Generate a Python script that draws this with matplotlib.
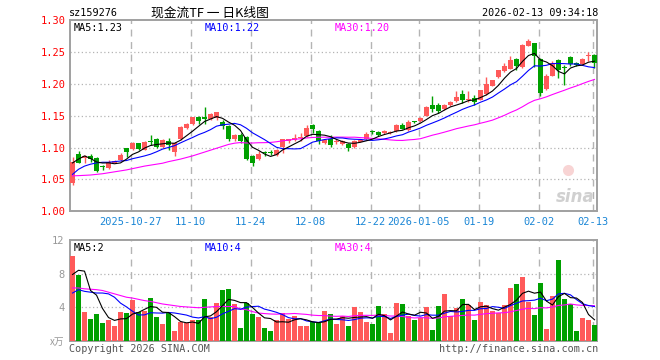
import numpy as np
import pandas as pd
import matplotlib
matplotlib.use('Agg')
from matplotlib import pyplot as plt

# daily candles (2025-10-13 .. 2026-02-13)
opens = [1.045, 1.090, 1.083, 1.0875, 1.084, 1.0702, 1.0676, 1.0765, 1.0807, 1.099,
         1.0975, 1.1069, 1.0964, 1.110, 1.1137, 1.1006, 1.1111, 1.0938, 1.1132, 1.1305,
         1.1373, 1.1488, 1.1488, 1.1452, 1.1473, 1.141, 1.1342, 1.1143, 1.12, 1.1174,
         1.087, 1.082, 1.0915, 1.0924, 1.088, 1.1016, 1.1099, 1.112, 1.115, 1.1182,
         1.135, 1.126, 1.1068, 1.1135, 1.1088, 1.1057, 1.1057, 1.1016, 1.1094, 1.1135,
         1.1245, 1.1245, 1.1224, 1.123, 1.1266, 1.1354, 1.1276, 1.1405, 1.1411, 1.1495,
         1.1677, 1.1677, 1.160, 1.1677, 1.1729, 1.1844, 1.1745, 1.1781, 1.1755, 1.1849,
         1.1974, 1.2109, 1.2198, 1.224, 1.2391, 1.2266, 1.2599, 1.2641, 1.2391, 1.1922,
         1.213, 1.238, 1.226, 1.2422, 1.2328, 1.2318, 1.2432, 1.2458]
highs = [1.086, 1.094, 1.089, 1.090, 1.086, 1.073, 1.081, 1.081, 1.091, 1.100,
         1.1095, 1.108, 1.1105, 1.120, 1.1147, 1.1132, 1.1147, 1.1095, 1.1342, 1.1384,
         1.1488, 1.1498, 1.1635, 1.155, 1.1567, 1.1436, 1.1358, 1.1215, 1.1237, 1.1184,
         1.0886, 1.0948, 1.0948, 1.0958, 1.0972, 1.1141, 1.1141, 1.1208, 1.1234, 1.135,
         1.1365, 1.1276, 1.113, 1.1203, 1.1135, 1.1125, 1.1068, 1.1115, 1.114, 1.1245,
         1.127, 1.1255, 1.1276, 1.1266, 1.137, 1.139, 1.1427, 1.142, 1.148, 1.1656,
         1.1818, 1.170, 1.169, 1.174, 1.1885, 1.1906, 1.1885, 1.1833, 1.1911, 1.2109,
         1.2068, 1.2224, 1.2328, 1.2443, 1.2401, 1.263, 1.2708, 1.2651, 1.2406, 1.2156,
         1.2354, 1.2391, 1.2302, 1.2432, 1.2344, 1.2406, 1.250, 1.2474]
lows = [1.042, 1.0755, 1.0755, 1.078, 1.062, 1.065, 1.066, 1.0755, 1.0797, 1.086,
        1.0965, 1.0955, 1.0955, 1.104, 1.099, 1.099, 1.096, 1.087, 1.1122, 1.129,
        1.1358, 1.1373, 1.1373, 1.1436, 1.1436, 1.1289, 1.111, 1.111, 1.108, 1.080,
        1.0718, 1.0813, 1.087, 1.088, 1.087, 1.091, 1.1068, 1.1104, 1.1104, 1.1172,
        1.1234, 1.1063, 1.1057, 1.1016, 1.1057, 1.104, 1.0943, 1.100, 1.1083, 1.1125,
        1.122, 1.118, 1.1214, 1.1214, 1.125, 1.1286, 1.1266, 1.138, 1.140, 1.149,
        1.1562, 1.154, 1.159, 1.166, 1.172, 1.1703, 1.1714, 1.1677, 1.1745, 1.1833,
        1.1964, 1.2094, 1.2188, 1.2234, 1.2214, 1.225, 1.2589, 1.2266, 1.1807, 1.1911,
        1.212, 1.2094, 1.199, 1.2276, 1.2276, 1.2302, 1.2354, 1.225]
closes = [1.078, 1.0765, 1.087, 1.082, 1.064, 1.0697, 1.078, 1.0797, 1.0886, 1.0938,
          1.1069, 1.0975, 1.1095, 1.109, 1.1017, 1.1122, 1.1043, 1.1069, 1.1331, 1.1368,
          1.1478, 1.1426, 1.1447, 1.1525, 1.1562, 1.1342, 1.1132, 1.12, 1.1111, 1.0818,
          1.0765, 1.0896, 1.0911, 1.092, 1.0958, 1.113, 1.113, 1.1156, 1.116, 1.1313,
          1.1286, 1.1104, 1.1115, 1.1042, 1.1099, 1.111, 1.099, 1.1099, 1.1125, 1.1214,
          1.124, 1.1198, 1.1255, 1.125, 1.136, 1.1297, 1.140, 1.140, 1.1469, 1.1646,
          1.160, 1.1573, 1.1667, 1.1714, 1.1792, 1.1755, 1.1766, 1.1719, 1.1901, 1.2005,
          1.2057, 1.2214, 1.2276, 1.238, 1.2286, 1.2615, 1.2677, 1.2443, 1.1859, 1.213,
          1.2328, 1.2224, 1.225, 1.2318, 1.2302, 1.2391, 1.2448, 1.2328]
# volume in 万
volumes = [10.08, 7.88, 3.48, 2.6, 3.2, 2.16, 2.48, 1.8, 3.48, 3.36,
           4.88, 3.48, 3.6, 5.16, 2.88, 2.0, 3.28, 1.16, 2.28, 2.08,
           2.48, 2.48, 5.0, 2.88, 4.56, 6.08, 6.2, 4.4, 1.56, 4.56,
           3.2, 2.88, 1.56, 1.16, 2.48, 3.36, 2.6, 3.0, 1.8, 1.8,
           2.2, 2.08, 3.56, 3.2, 2.0, 3.0, 1.76, 4.04, 3.44, 2.24,
           2.0, 4.16, 3.2, 0.92, 4.52, 4.4, 3.0, 2.48, 2.68, 4.04,
           1.28, 4.16, 5.6, 2.96, 3.92, 5.0, 4.28, 2.48, 4.64, 4.28,
           3.56, 3.36, 4.28, 6.24, 6.8, 7.64, 4.64, 3.08, 6.92, 1.4,
           5.36, 9.6, 5.0, 4.4, 1.16, 2.72, 2.48, 1.88]

# start of the MA lines (they use days before the window)
ma5_head = [1.076, 1.082, 1.087, 1.083]
ma10_head = [1.058, 1.066, 1.071, 1.074, 1.076, 1.077, 1.077, 1.078, 1.079]
ma30_head = [1.0557, 1.056, 1.0565, 1.057, 1.058, 1.059, 1.0605, 1.062, 1.0635, 1.065,
             1.067, 1.069, 1.071, 1.0725, 1.074, 1.0755, 1.078, 1.080, 1.082, 1.0845,
             1.087, 1.090, 1.093, 1.096, 1.099, 1.102, 1.105, 1.107, 1.108]
vma5_head = [7.9, 8.4, 8.3, 6.0]
vma10_head = [5.7, 6.1, 5.9, 5.8, 5.7, 5.7, 5.6, 5.2, 4.5]
vma30_head = [6.3, 6.3, 6.2, 6.15, 6.1, 6.0, 5.8, 5.6, 5.4, 5.2,
              5.1, 4.95, 4.8, 4.7, 4.55, 4.4, 4.3, 4.2, 4.1, 4.05,
              4.0, 3.95, 4.0, 4.05, 4.1, 4.1, 4.1, 4.1, 3.8]

tick_idx = [10, 20, 30, 40, 50, 58, 68, 78, 87]
tick_labels = ['2025-10-27', '11-10', '11-24', '12-08', '12-22',
               '2026-01-05', '01-19', '02-02', '02-13']
price_ticks = [1.00, 1.05, 1.10, 1.15, 1.20, 1.25, 1.30]
vol_ticks = [4, 8, 12]

RED = '#ff5a5a'
GREEN = '#00a000'
GRID = '#b4b4b4'
FRAME = '#a0a0a0'
MONO = 'DejaVu Sans Mono'


def moving_avg(values, n, head):
    ma = pd.Series(values).rolling(n).mean().to_numpy()
    ma[:len(head)] = head
    return ma


def px(x, y):
    return x / 660, 1 - y / 360


x = np.arange(len(closes))
o = np.array(opens)
c = np.array(closes)
cols = [RED if cc >= oo else GREEN for oo, cc in zip(o, c)]

fig = plt.figure(figsize=(6.6, 3.6), dpi=100)
ax = fig.add_axes([70 / 660, 1 - 211.3 / 360, 527 / 660, 191 / 360])
axv = fig.add_axes([70 / 660, 1 - 341 / 360, 527 / 660, 101 / 360])

for a in (ax, axv):
    a.set_xlim(-0.42, 87.42)
    for s in a.spines.values():
        s.set_color(FRAME)
        s.set_linewidth(1.4)
    for t in tick_idx:
        a.axvline(t - 0.33, color=GRID, lw=1, ls=(0, (5, 4)), zorder=0)

# price panel
for y in price_ticks[1:-1]:
    ax.axhline(y, color=GRID, lw=0.9, ls=(0, (1, 2)), zorder=0)
ax.vlines(x, lows, highs, colors=cols, lw=1, zorder=2)
body_b = np.minimum(o, c)
body_h = np.maximum(np.abs(c - o), 0.0016)
ax.bar(x, body_h, bottom=body_b, width=0.8, color=cols, linewidth=0, zorder=3)
ax.plot(x, moving_avg(closes, 30, ma30_head), color='#ff00ff', lw=0.8, zorder=4)
ax.plot(x, moving_avg(closes, 10, ma10_head), color='#0000ff', lw=0.8, zorder=4)
ax.plot(x, moving_avg(closes, 5, ma5_head), color='black', lw=0.8, zorder=4)
ax.set_ylim(1.0, 1.30)
ax.set_yticks(price_ticks)
ax.set_yticklabels(['%.2f' % v for v in price_ticks], family=MONO, fontsize=7.5, color='red')
ax.set_xticks([t - 0.33 for t in tick_idx])
ax.set_xticklabels(tick_labels, family=MONO, fontsize=7.5, color='#1a86d6')
ax.tick_params(length=0, pad=3)
ax.tick_params(axis='x', pad=4)

ax.text(0.006, 0.985, 'MA5:1.23', transform=ax.transAxes, family=MONO, fontsize=7.3,
        color='black', va='top')
ax.text((205 - 70) / 527, 0.985, 'MA10:1.22', transform=ax.transAxes, family=MONO,
        fontsize=7.3, color='#0000ff', va='top')
ax.text((335 - 70) / 527, 0.985, 'MA30:1.20', transform=ax.transAxes, family=MONO,
        fontsize=7.3, color='#ff00ff', va='top')

# sina watermark
ax.plot([82.6], [1.065], 'o', ms=8, mfc='#f8d4d4', mec='none', zorder=1)
ax.text(0.995, 0.03, 'sina', transform=ax.transAxes, fontsize=12, fontweight='bold',
        style='italic', color='#d0d0d0', ha='right', va='bottom', zorder=1)

# volume panel
for y in [4, 8]:
    axv.axhline(y, color=GRID, lw=0.9, ls=(0, (1, 2)), zorder=0)
axv.bar(x, volumes, width=0.8, color=cols, linewidth=0, zorder=3)
axv.plot(x, moving_avg(volumes, 30, vma30_head), color='#ff00ff', lw=0.8, zorder=4)
axv.plot(x, moving_avg(volumes, 10, vma10_head), color='#0000ff', lw=0.8, zorder=4)
axv.plot(x, moving_avg(volumes, 5, vma5_head), color='black', lw=0.8, zorder=4)
axv.set_ylim(0, 12)
axv.set_yticks(vol_ticks)
axv.set_yticklabels([str(v) for v in vol_ticks], family=MONO, fontsize=7.5, color='#999999')
axv.set_xticks([])
axv.tick_params(length=0, pad=4)
axv.text(0.006, 0.975, 'MA5:2', transform=axv.transAxes, family=MONO, fontsize=7.3,
         color='black', va='top')
axv.text((205 - 70) / 527, 0.975, 'MA10:4', transform=axv.transAxes, family=MONO,
         fontsize=7.3, color='#0000ff', va='top')
axv.text((335 - 70) / 527, 0.975, 'MA30:4', transform=axv.transAxes, family=MONO,
         fontsize=7.3, color='#ff00ff', va='top')

# header / footer
fig.text(*px(69, 13), 'sz159276', family=MONO, fontsize=7.3, va='center')
fig.text(*px(151, 13), '现金流TF 一 日K线图', family=['Noto Sans CJK SC', 'DejaVu Sans'],
         fontsize=9.2, va='center')
fig.text(*px(598, 13), '2026-02-13 09:34:18', family=MONO, fontsize=7.3, va='center', ha='right')
fig.text(*px(64, 342), 'x万', family=['Noto Sans CJK SC', 'DejaVu Sans'], fontsize=7,
         color='#999999', va='center', ha='right', style='italic')
fig.text(*px(69, 349), 'Copyright 2026 SINA.COM', family=MONO, fontsize=7.3,
         color='#555555', va='center')
fig.text(*px(598, 349), 'http://finance.sina.com.cn', family=MONO, fontsize=7.3,
         color='#555555', va='center', ha='right')

plt.savefig('out.png', dpi=100)
